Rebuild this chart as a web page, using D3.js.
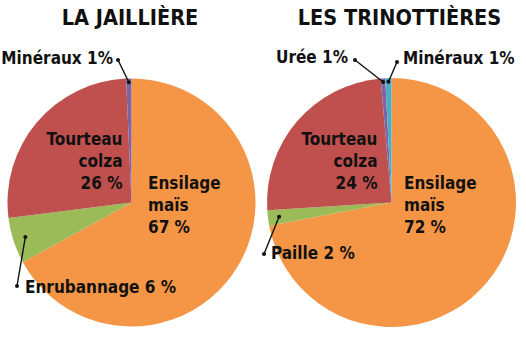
<!DOCTYPE html>
<html><head><meta charset="utf-8">
<script src="https://cdn.jsdelivr.net/npm/d3@7"></script>
<style>
html,body{margin:0;padding:0;background:#fff;}
svg text{font-family:"DejaVu Sans Condensed","DejaVu Sans",sans-serif;font-weight:bold;fill:#111;}
</style></head>
<body><svg id="c" width="526" height="345"></svg>
<script>
// ---- data ----
const titles = ["LA JAILLIÈRE", "LES TRINOTTIÈRES"];
const catsA = ["Ensilage maïs", "Enrubannage", "Tourteau colza", "Minéraux"];
const valsA = [67, 6, 26.3, 0.7];
const labelsA = ["Ensilage\nmaïs\n67 %", "Enrubannage 6 %", "Tourteau\ncolza\n26 %", "Minéraux 1%"];
const catsB = ["Ensilage maïs", "Paille", "Tourteau colza", "Urée", "Minéraux"];
const valsB = [72, 2, 24.6, 0.6, 0.8];
const labelsB = ["Ensilage\nmaïs\n72 %", "Paille 2 %", "Tourteau\ncolza\n24 %", "Urée 1%", "Minéraux 1%"];

const colorOf = {"Ensilage maïs":"#F59647","Enrubannage":"#9BBB59","Paille":"#9BBB59",
  "Tourteau colza":"#C0504D","Minéraux":"#8064A2","Urée":"#8064A2"};
const colorOfB = Object.assign({}, colorOf, {"Minéraux":"#4BACC6"});

const layoutA = {cx:131.5, cy:202.5, r:124, titleX:130,
  labels:[
    {type:"inside", x:16.5, y:-13.5, anchor:"start"},
    {type:"leader", rs:0.9, ex:-114.5, ey:83.5, tx:8, ty:7, anchor:"start"},
    {type:"inside", x:-9, y:-57.5, anchor:"end"},
    {type:"leader", rs:0.97, ex:-13.5, ey:-142.5, tx:-5, ty:4, anchor:"end"}
  ]};
const layoutB = {cx:391.5, cy:202.5, r:124.5, titleX:399.5,
  labels:[
    {type:"inside", x:12.5, y:-13.5, anchor:"start"},
    {type:"leader", rs:0.91, ex:-127.5, ey:51.5, tx:7, ty:5, anchor:"start"},
    {type:"inside", x:-14, y:-57.5, anchor:"end"},
    {type:"leader", rs:0.97, ex:-36.5, ey:-142.5, tx:-7, ty:3, anchor:"end"},
    {type:"leader", rs:0.97, ex:5.5, ey:-140.5, tx:6, ty:2, anchor:"start"}
  ]};

const svg = d3.select("#c");
function drawPie(cats, vals, labels, colors, title, L){
  const g = svg.append("g").attr("transform", `translate(${L.cx},${L.cy})`);
  const pie = d3.pie().sort(null).value(d=>d.v);
  const arcs = pie(cats.map((c,i)=>({c, v:vals[i]})));
  const arc = d3.arc().innerRadius(0).outerRadius(L.r);
  g.selectAll("path.s").data(arcs).join("path").attr("class","s")
    .attr("d", arc).attr("fill", d=>colors[d.data.c]);
  svg.append("text").attr("x", L.titleX).attr("y", 25).attr("text-anchor","middle")
    .style("font-size","21.5px").text(title);
  arcs.forEach((a,i)=>{
    const lb = L.labels[i];
    const lines = labels[i].split("\n");
    if(lb.type==="inside"){
      const t = g.append("text").attr("text-anchor", lb.anchor).style("font-size","17px");
      lines.forEach((ln,j)=>t.append("tspan").attr("x", lb.x).attr("y", lb.y + j*22).text(ln));
    } else {
      const mid = (a.startAngle + a.endAngle)/2;
      const rs = L.r*lb.rs;
      const sx = rs*Math.sin(mid), sy = -rs*Math.cos(mid);
      g.append("line").attr("x1",sx).attr("y1",sy).attr("x2",lb.ex).attr("y2",lb.ey)
        .attr("stroke","#111").attr("stroke-width",1.4);
      g.append("circle").attr("cx",sx).attr("cy",sy).attr("r",2).attr("fill","#111");
      g.append("circle").attr("cx",lb.ex).attr("cy",lb.ey).attr("r",2).attr("fill","#111");
      g.append("text").attr("x", lb.ex+lb.tx).attr("y", lb.ey+lb.ty)
        .attr("text-anchor", lb.anchor).style("font-size","17px").text(lines[0]);
    }
  });
}
drawPie(catsA, valsA, labelsA, colorOf, titles[0], layoutA);
drawPie(catsB, valsB, labelsB, colorOfB, titles[1], layoutB);
</script></body></html>
